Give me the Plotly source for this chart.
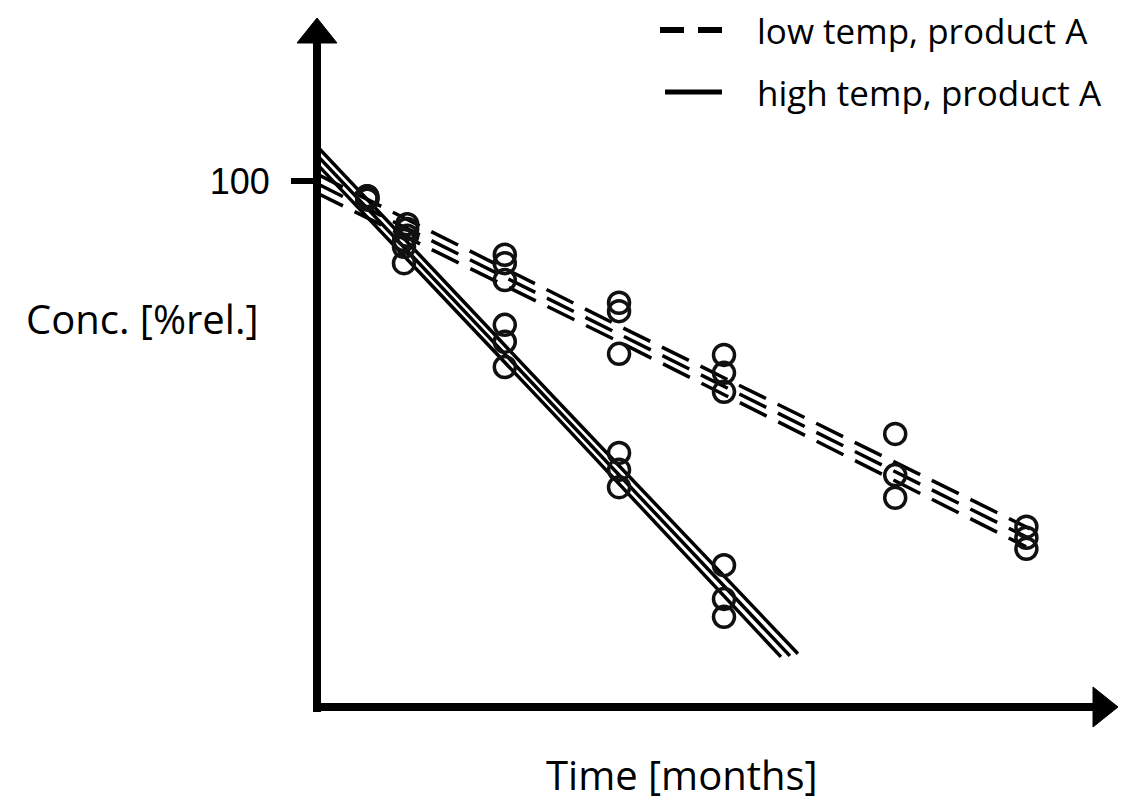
import plotly.graph_objects as go

# ---------------- data ----------------
# measurement times [months]
t_low = [1.6, 1.6, 1.6, 2.85, 2.85, 2.85, 5.9, 5.9, 5.9, 9.47, 9.47, 9.47,
         12.75, 12.75, 12.75, 18.1, 18.1, 18.1, 22.2, 22.2, 22.2]
c_low = [97.1, 96.8, 96.5, 91.8, 90.9, 89.6, 86.0, 84.4, 81.2, 76.9, 75.3, 67.2,
         67.0, 63.6, 60.0, 52.0, 44.2, 39.9, 34.4, 32.3, 30.2]

t_high = [1.6, 1.6, 1.6, 2.75, 2.75, 2.75, 5.9, 5.9, 5.9, 9.47, 9.47, 9.47,
          12.75, 12.75, 12.75]
c_high = [97.1, 96.8, 96.5, 88.8, 87.5, 84.4, 72.7, 69.5, 64.7, 48.4, 45.2, 41.9,
          27.1, 20.7, 17.3]

# regression line with its two confidence limits (start, middle, end)
low_fit_t = [0, 9.5, 22.25]
low_fit_c = [99.6, 70.9, 32.3]
low_upper_t = [0, 9.5, 22.31]
low_upper_c = [101.4, 72.4, 34.0]
low_lower_t = [0, 9.5, 22.19]
low_lower_c = [97.8, 69.4, 30.6]

high_fit_t = [0, 7.41, 14.81]
high_fit_c = [105.1, 57.5, 9.9]
high_upper_t = [0, 7.41, 15.06]
high_upper_c = [106.8, 59.1, 10.3]
high_lower_t = [0, 7.41, 14.53]
high_lower_c = [103.4, 55.9, 9.7]

y_tick_vals = [100]
y_tick_text = ["100"]
legend_labels = ["low temp, product A", "high temp, product A"]
x_title = "Time [months]"
y_title = "Conc. [%rel.]"

# ---------------- layout geometry ----------------
W, H = 1137, 804
ML, MR, MT, MB = 316, 27, 0, 96
PW, PH = W - ML - MR, H - MT - MB
X_RANGE = [0, PW / 32.0]
Y_RANGE = [0, PH / 5.27]
FONT = "Open Sans"


def px(x):
    return (x - ML) / PW


def py(y):
    return (MT + PH - y) / PH


fig = go.Figure()

DASH = "30px,13px"
LW = 3.5
for tt, cc in [(low_upper_t, low_upper_c), (low_fit_t, low_fit_c), (low_lower_t, low_lower_c)]:
    fig.add_trace(go.Scatter(x=tt, y=cc, mode="lines",
                             line=dict(color="black", width=LW, dash=DASH),
                             hoverinfo="skip", showlegend=False))
for tt, cc in [(high_upper_t, high_upper_c), (high_fit_t, high_fit_c), (high_lower_t, high_lower_c)]:
    fig.add_trace(go.Scatter(x=tt, y=cc, mode="lines",
                             line=dict(color="black", width=LW),
                             hoverinfo="skip", showlegend=False))

marker = dict(symbol="circle", size=21, color="rgba(0,0,0,0)",
              line=dict(color="#111", width=3.5))
fig.add_trace(go.Scatter(x=t_low, y=c_low, mode="markers", marker=marker,
                         name=legend_labels[0], showlegend=False))
fig.add_trace(go.Scatter(x=t_high, y=c_high, mode="markers", marker=marker,
                         name=legend_labels[1], showlegend=False))

shapes = []
# y axis shaft and arrow head
shapes.append(dict(type="line", xref="paper", yref="paper",
                   x0=px(317), x1=px(317), y0=py(712), y1=py(40),
                   line=dict(color="black", width=8)))
shapes.append(dict(type="path", xref="paper", yref="paper",
                   path=f"M {px(297)},{py(43)} L {px(337)},{py(43)} L {px(317)},{py(18)} Z",
                   fillcolor="black", line=dict(color="black", width=1)))
# x axis shaft and arrow head
shapes.append(dict(type="line", xref="paper", yref="paper",
                   x0=px(313), x1=px(1096), y0=py(707), y1=py(707),
                   line=dict(color="black", width=8)))
shapes.append(dict(type="path", xref="paper", yref="paper",
                   path=f"M {px(1093)},{py(687)} L {px(1093)},{py(727)} L {px(1118)},{py(707)} Z",
                   fillcolor="black", line=dict(color="black", width=1)))
# legend samples
shapes.append(dict(type="line", xref="paper", yref="paper",
                   x0=px(660), x1=px(722), y0=py(30), y1=py(30),
                   line=dict(color="black", width=6, dash="24px,14px")))
shapes.append(dict(type="line", xref="paper", yref="paper",
                   x0=px(665), x1=px(722), y0=py(92), y1=py(92),
                   line=dict(color="black", width=5)))

annotations = [
    dict(text=legend_labels[0], x=px(755), y=py(30), xref="paper", yref="paper",
         xanchor="left", yanchor="middle", showarrow=False,
         font=dict(family=FONT, size=35, color="black")),
    dict(text=legend_labels[1], x=px(755), y=py(92), xref="paper", yref="paper",
         xanchor="left", yanchor="middle", showarrow=False,
         font=dict(family=FONT, size=35, color="black")),
    dict(text=x_title, x=px(682), y=py(774), xref="paper", yref="paper",
         xanchor="center", yanchor="middle", showarrow=False,
         font=dict(family=FONT, size=40, color="black")),
    dict(text=y_title, x=px(142), y=py(318), xref="paper", yref="paper",
         xanchor="center", yanchor="middle", showarrow=False,
         font=dict(family=FONT, size=40, color="black")),
]

fig.update_layout(
    width=W, height=H,
    margin=dict(l=ML, r=MR, t=MT, b=MB, pad=0),
    paper_bgcolor="white", plot_bgcolor="white",
    showlegend=False,
    shapes=shapes, annotations=annotations,
    xaxis=dict(range=X_RANGE, showgrid=False, zeroline=False, showline=False,
               showticklabels=False, ticks=""),
    yaxis=dict(range=Y_RANGE, showgrid=False, zeroline=False, showline=False,
               tickmode="array", tickvals=y_tick_vals, ticktext=y_tick_text,
               ticks="outside", ticklen=24, tickwidth=6, tickcolor="black",
               ticklabelstandoff=14,
               tickfont=dict(family="Liberation Sans", size=36, color="black")),
)

fig.write_html("out.html")
